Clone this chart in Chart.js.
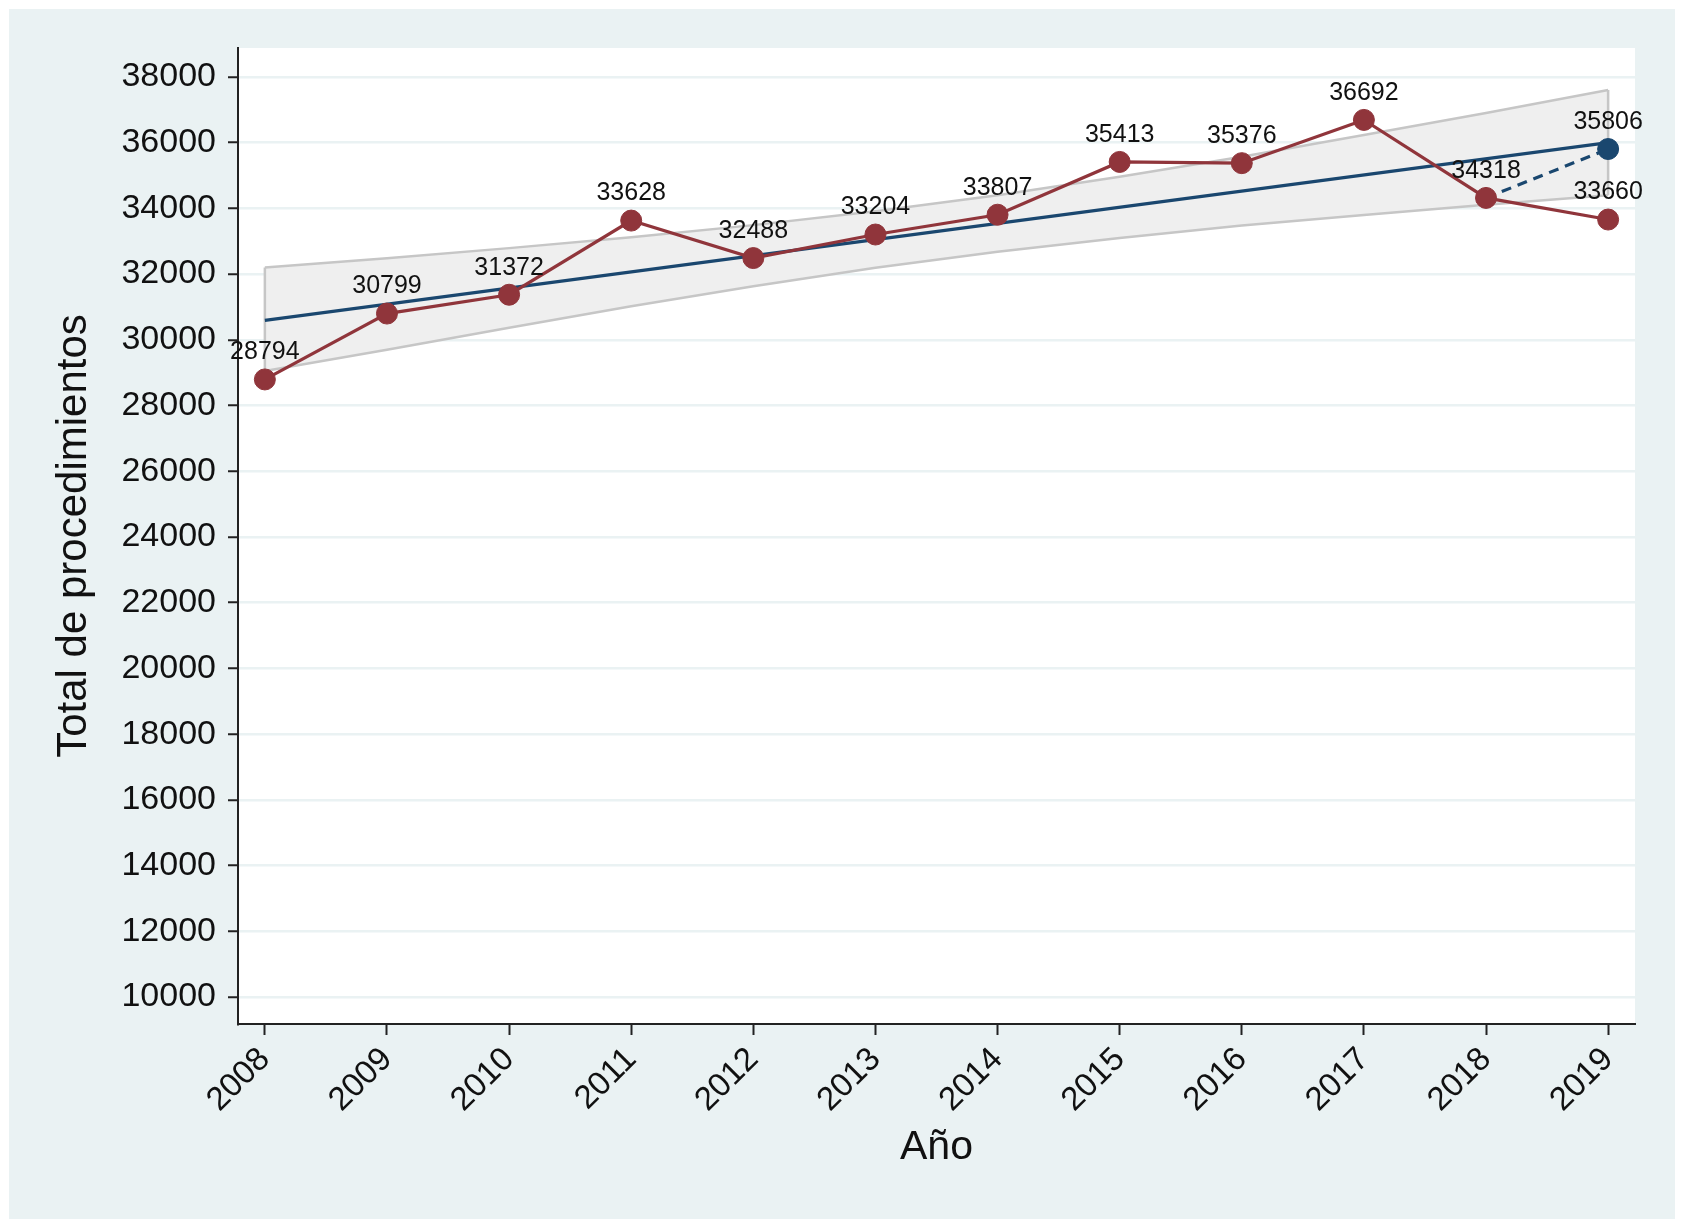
<!DOCTYPE html>
<html>
<head>
<meta charset="utf-8">
<script src="https://cdn.jsdelivr.net/npm/chart.js@4.4.1/dist/chart.umd.min.js"></script>
<style>
  html, body { margin: 0; padding: 0; background: #fff; }
</style>
</head>
<body>
<canvas id="chart" width="1684" height="1228"></canvas>
<script>
// values
const years = [2008, 2009, 2010, 2011, 2012, 2013, 2014, 2015, 2016, 2017, 2018, 2019];
const totals = [28794, 30799, 31372, 33628, 32488, 33204, 33807, 35413, 35376, 36692, 34318, 33660];
const fitYears = [2008, 2019];
const fitVals = [30590, 36000];
const bandHigh = [32200, 32480, 32790, 33120, 33490, 33910, 34400, 34960, 35570, 36230, 36900, 37600];
const bandLow = [29050, 29700, 30370, 31020, 31630, 32190, 32680, 33100, 33480, 33800, 34110, 34400];
const forecastYears = [2018, 2019];
const forecastVals = [34318, 35806];
const yTicks = [10000, 12000, 14000, 16000, 18000, 20000, 22000, 24000, 26000, 28000,
                30000, 32000, 34000, 36000, 38000];

const RED = '#90353b';
const NAVY = '#1a476f';
const BG = '#eaf2f3';
const FONT = '"Liberation Sans", Arial, Helvetica, sans-serif';

const pts = (xs, ys) => xs.map((x, i) => ({ x: x, y: ys[i] }));

// vertical sides of the confidence band
const last = years.length - 1;
const bandEdges = [
  { x: years[0], y: bandHigh[0] }, { x: years[0], y: bandLow[0] },
  { x: years[last], y: null },
  { x: years[last], y: bandHigh[last] }, { x: years[last], y: bandLow[last] }
];

const background = {
  id: 'background',
  beforeDraw(chart) {
    const ctx = chart.ctx;
    const a = chart.chartArea;
    ctx.save();
    ctx.fillStyle = '#ffffff';
    ctx.fillRect(0, 0, chart.width, chart.height);
    ctx.fillStyle = BG;
    ctx.fillRect(9, 9, chart.width - 18, chart.height - 18);
    ctx.fillStyle = '#ffffff';
    ctx.fillRect(a.left, a.top, a.right - a.left, a.bottom - a.top);
    ctx.restore();
  }
};

const valueLabels = {
  id: 'valueLabels',
  afterDatasetsDraw(chart) {
    const ctx = chart.ctx;
    ctx.save();
    ctx.font = '25px ' + FONT;
    ctx.fillStyle = '#111';
    ctx.textAlign = 'center';
    ctx.textBaseline = 'middle';
    chart.data.datasets.forEach((ds, i) => {
      if (!ds.showValues) return;
      chart.getDatasetMeta(i).data.forEach((el, j) => {
        const v = ds.data[j].y;
        ctx.fillText(String(v), el.x, el.y - 27);
      });
    });
    ctx.restore();
  }
};

new Chart(document.getElementById('chart'), {
  type: 'line',
  data: {
    datasets: [
      {
        data: pts(years, bandHigh),
        fill: '+1',
        backgroundColor: '#efefef',
        borderColor: '#c6c6c6',
        borderWidth: 2.5,
        pointRadius: 0,
        order: 10
      },
      {
        data: pts(years, bandLow),
        fill: false,
        borderColor: '#c6c6c6',
        borderWidth: 2.5,
        pointRadius: 0,
        order: 9
      },
      {
        data: bandEdges,
        fill: false,
        borderColor: '#c6c6c6',
        borderWidth: 2.5,
        pointRadius: 0,
        spanGaps: false,
        order: 8
      },
      {
        data: pts(fitYears, fitVals),
        fill: false,
        borderColor: NAVY,
        borderWidth: 3.2,
        pointRadius: 0,
        order: 6
      },
      {
        data: pts(forecastYears, forecastVals),
        fill: false,
        borderColor: NAVY,
        borderWidth: 3.2,
        borderDash: [10, 7],
        pointRadius: 0,
        order: 5
      },
      {
        data: pts(years, totals),
        fill: false,
        borderColor: RED,
        borderWidth: 3.2,
        pointRadius: 10.5,
        pointBackgroundColor: RED,
        pointBorderColor: RED,
        pointBorderWidth: 1,
        showValues: true,
        order: 2
      },
      {
        data: pts(forecastYears.slice(1), forecastVals.slice(1)),
        showLine: false,
        pointRadius: 10.5,
        pointBackgroundColor: NAVY,
        pointBorderColor: NAVY,
        pointBorderWidth: 1,
        showValues: true,
        order: 1
      }
    ]
  },
  options: {
    responsive: false,
    devicePixelRatio: 1,
    animation: false,
    layout: { padding: { top: 48, right: 49, left: 0, bottom: 0 } },
    plugins: {
      legend: { display: false },
      tooltip: { enabled: false }
    },
    scales: {
      x: {
        type: 'linear',
        min: 2007.78,
        max: 2019.22,
        afterFit: (scale) => { scale.height = 204; },
        afterBuildTicks: (scale) => { scale.ticks = years.map(v => ({ value: v })); },
        ticks: {
          callback: (v) => String(v),
          minRotation: 45,
          maxRotation: 45,
          padding: 5,
          color: '#111',
          font: { family: FONT, size: 33 }
        },
        grid: {
          drawOnChartArea: false,
          color: 'rgba(0,0,0,0)',
          tickColor: '#222',
          tickLength: 11,
          tickWidth: 2
        },
        border: { display: true, color: '#222', width: 2 },
        title: {
          display: true,
          text: 'Año',
          color: '#111',
          font: { family: FONT, size: 41 },
          padding: { top: 0, bottom: 56 }
        }
      },
      y: {
        min: 9180,
        max: 38880,
        afterFit: (scale) => { scale.width = 238; },
        afterBuildTicks: (scale) => { scale.ticks = yTicks.map(v => ({ value: v })); },
        ticks: {
          callback: (v) => String(v),
          padding: 12,
          color: '#111',
          font: { family: FONT, size: 34 }
        },
        grid: {
          color: BG,
          lineWidth: 2.5,
          tickColor: '#222',
          tickLength: 10,
          tickWidth: 2
        },
        border: { display: true, color: '#222', width: 2 },
        title: {
          display: true,
          text: 'Total de procedimientos',
          color: '#111',
          font: { family: FONT, size: 42 },
          padding: { top: 49, bottom: 0 }
        }
      }
    }
  },
  plugins: [background, valueLabels]
});
</script>
</body>
</html>
